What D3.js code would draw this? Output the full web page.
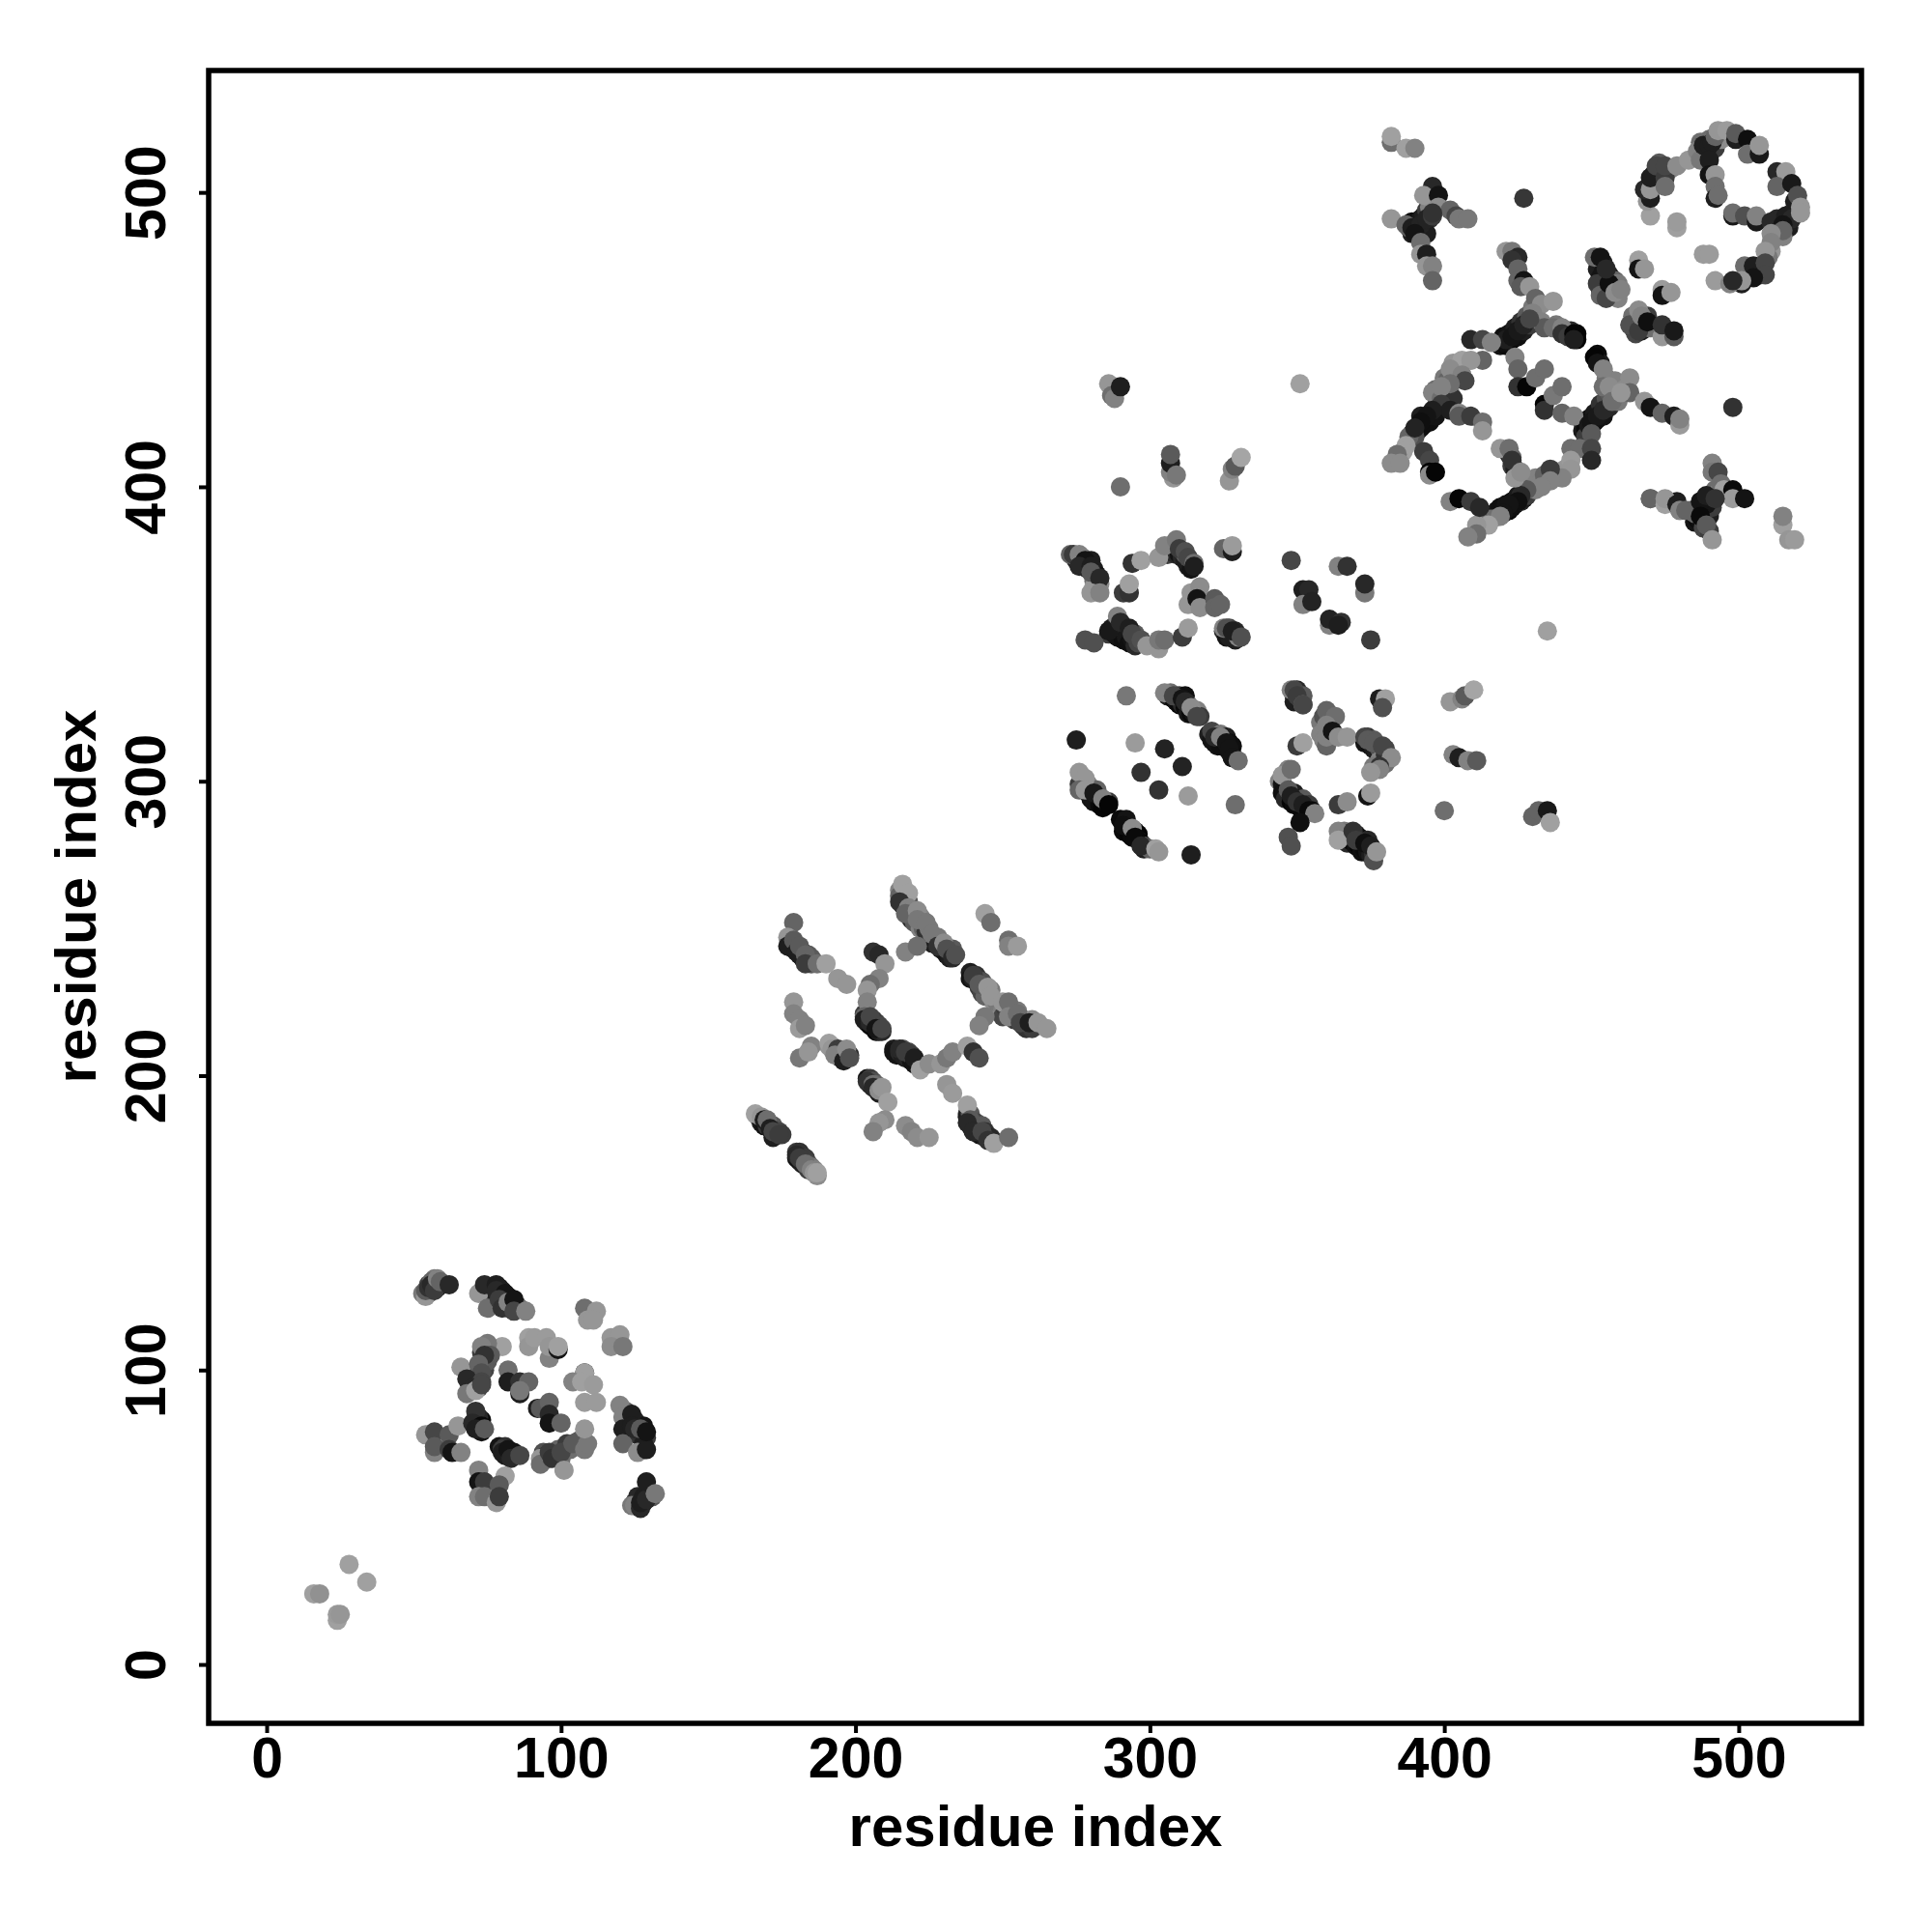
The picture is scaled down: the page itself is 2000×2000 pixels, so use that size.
<!DOCTYPE html>
<html><head><meta charset="utf-8">
<script src="https://cdn.jsdelivr.net/npm/d3@7/dist/d3.min.js"></script>
<style>html,body{margin:0;background:#fff}svg{display:block}text{font-family:"Liberation Sans",Arial,sans-serif;font-weight:bold;fill:#000}</style>
</head><body><svg id="c" width="2000" height="2000"></svg>
<script>
const tickValues=[0,100,200,300,400,500];
const axisTitle="residue index";
// each row: residue i, residue j, contact score (0 dark ... 170 light)
const bandB=[
[53,126,120],[55,126,60],[55,129,70],[56,127,40],[57,129,90],[57,131,120],[56,130,100],[58,128,30],
[76,127,40],[77,128,35],[77,125,60],[78,126,35],[79,128,20],[80,127,30],[79,122,50],[81,125,30],[82,125,20],[83,124,25],[83,121,70],[85,122,60],[86,121,110],[82,121,60],
[73,106,60],[74,103,50],[75,107,90],[72,100,110],[71,98,70],[72,97,50],[74,100,70],[71,96,40],[72,94,60],[69,95,40],[71,94,80],[75,103,90],
[122,86,100],[122,83,40],[123,82,30],[122,81,80],[125,83,40],[126,81,20],[127,78,30],[128,81,20],[129,77,60],[126,78,50],[128,75,30],[128,73,30],
[71,83,40],[72,82,20],[73,83,10],[72,84,40],[73,79,20],
[79,74,20],[81,71,30],[81,74,50],[84,72,20],[84,71,30],[82,71,20],
[94,72,80],[95,71,40],[96,70,60],[98,71,50],[99,73,100],[100,70,110],[102,73,90],[102,75,60],[105,74,100],[106,76,90],
[125,55,40],[126,55,30],[127,56,30],[128,55,20],[126,57,40],[124,54,120],[128,57,30],[131,57,90]];
const bandC=[
[167,186,100],[168,184,30],[169,183,20],[170,183,60],[171,183,40],[172,183,90],[173,181,50],[172,179,30],[174,181,70],[175,180,60],
[180,172,20],[180,174,60],[181,174,50],[182,172,40],[181,171,20],[182,170,30],[183,172,60],[184,170,70],[184,168,60],[185,169,120],[186,168,130],[187,166,140],
[178,245,60],[178,244,20],[179,243,20],[180,244,50],[181,243,40],[181,241,20],[182,242,30],[182,240,30],[183,240,70],[184,241,90],[185,240,90],[185,238,90],
[203,221,60],[204,220,30],[204,218,20],[205,217,10],[206,217,20],[206,219,50],[207,218,60],[207,215,10],[208,217,70],[208,215,30],[209,215,40],
[213,209,30],[213,208,20],[214,207,20],[215,208,40],[216,207,30],[216,209,80],[217,206,30],[218,206,40],[218,208,70],[219,205,20],[219,207,60],[220,204,20],
[191,210,150],[192,210,100],[193,209,50],[194,208,70],[195,207,30],[196,208,100],[195,206,30],[197,207,60],[198,207,40],
[204,199,20],[205,199,60],[205,197,10],[206,198,80],[207,196,30],[207,197,100],[208,194,30],
[238,187,60],[238,186,30],[239,183,20],[239,187,90],[240,183,30],[241,182,30],[241,184,70],[242,180,20],[243,183,90],[244,179,30],[244,181,50],[246,179,40],
[215,263,130],[215,261,100],[216,260,120],[216,258,30],[217,258,60],[218,259,90],[219,256,30],[219,253,40],[220,254,110],[220,252,90],[222,250,130],[222,254,130],[223,250,100],[224,249,50],[225,250,120],[226,246,60],[227,247,130],[226,245,30],[228,247,120],[229,243,30],[231,241,20],[232,242,40],[232,240,30],[233,243,90],
[239,235,30],[239,233,20],[241,232,30],[241,234,50],[242,230,60],[243,232,80],[243,228,70],[244,227,100],[246,229,120],[247,225,140],[248,225,120],[250,222,130],[250,220,70],[251,223,60],[252,222,80],[253,220,40],[254,219,60],[255,219,50],[255,222,120],[257,219,80],[257,217,40],[258,216,50],[260,216,60],[260,219,140]];
const bandD=[
[275,375,40],[276,376,30],[277,373,30],[278,373,20],[277,376,90],[279,374,20],[279,372,20],[280,375,30],[281,372,30],[282,370,20],[281,368,110],[283,367,140],[282,366,30],[281,366,150],
[306,377,60],[307,380,90],[307,378,30],[308,378,60],[309,377,40],[310,377,20],[311,376,40],[312,375,30],[313,373,30],[314,372,20],[312,377,90],
[286,350,60],[287,352,30],[288,352,20],[288,350,20],[289,354,60],[289,349,20],[290,351,20],[291,348,15],[291,352,60],[292,349,25],[293,347,15],[294,348,20],[295,346,40],[296,347,70],[295,350,90],
[325,351,40],[326,349,20],[327,352,70],[327,349,30],[329,348,30],[329,351,40],[330,349,130],
[306,329,30],[307,330,110],[308,328,10],[309,327,20],[310,326,10],[310,329,60],[311,326,40],[312,329,15],[312,325,10],[313,326,90],[313,323,25],[314,323,10],[315,323,20],[316,324,130],[317,322,60],
[320,316,30],[321,314,20],[321,317,70],[322,313,20],[323,312,20],[324,316,120],[324,312,15],[325,314,10],[326,315,30],[327,313,15],[328,312,15],[327,310,20],[328,309,10],[328,308,80],
[277,300,90],[276,299,60],[278,298,40],[279,296,20],[279,299,130],[280,294,20],[281,293,20],[282,295,20],[283,292,10],[282,297,100],[284,291,5],[285,293,20],[286,293,60],
[290,287,10],[291,283,10],[292,284,10],[292,287,20],[293,282,5],[294,281,10],[295,283,20],[296,282,5],[296,280,20],[297,279,5],[298,278,80],[298,277,30],[300,277,100],
[349,329,50],[350,331,40],[349,327,30],[351,328,50],[352,329,90],
[347,304,130],[344,300,130],[345,299,20],[345,296,15],[347,295,10],[346,294,40],[348,293,5],[349,296,30],[349,292,10],[350,294,40],[351,291,10],[351,294,20],[352,294,90],[353,291,20],[353,290,5],[354,292,60],[355,290,15],
[358,320,120],[359,322,80],[358,316,130],[359,314,130],[361,317,90],[361,320,120],[360,312,100],
[373,313,20],[374,315,50],[375,312,15],[376,314,90],[376,311,25],[377,312,40],[377,310,30],[378,311,80],[379,309,60],[380,311,70],[380,306,110],[378,307,130],[376,305,120],[380,309,50],
[366,283,120],[367,282,30],[367,279,40],[368,280,5],[369,281,10],[370,282,30],[370,278,15],[371,281,15],[371,278,5],[372,280,10],[372,276,15],[373,277,10],[374,276,20],[374,280,40],[375,275,30],[376,275,50]];
const bandE=[
[419,448,20],[420,451,15],[421,448,10],[422,449,10],[422,452,20],[423,450,10],[424,451,15],[424,454,30],[425,451,15],[426,453,20],[426,456,50],[427,453,30],[428,455,50],[428,458,90],[429,455,60],[430,461,120],[431,458,100],
[391,419,20],[392,424,30],[392,420,20],[393,422,10],[393,421,15],[394,423,15],[395,424,20],[395,422,15],[396,425,30],[397,424,20],[397,427,30],[398,426,20],[389,418,40],[390,417,80],[388,417,100],[398,429,50],[399,431,110],[397,433,110],[396,432,130],
[447,419,25],[447,422,30],[448,420,10],[449,423,15],[450,421,15],[451,422,10],[451,425,25],[452,423,15],[453,425,20],[453,428,50],[454,424,20],[455,427,30],[455,430,80],[456,427,40],[458,430,90],[459,429,120],[448,417,60],
[417,391,30],[418,392,20],[418,390,15],[419,391,15],[419,393,15],[420,393,15],[421,392,10],[421,394,20],[422,392,10],[423,395,15],[423,393,15],[424,394,15],[425,397,25],[426,395,40],[427,396,30],[427,398,60],[428,397,60],[416,389,120],[415,389,110],[430,401,110],[431,399,130],[432,403,130],
[388,489,20],[389,490,15],[389,486,30],[390,489,15],[390,487,15],[391,490,15],[391,487,20],[392,491,25],[392,488,20],[393,492,30],[393,489,25],[394,494,60],[395,495,130],[396,497,140],[395,491,50],[394,486,30],[388,488,90],
[484,392,90],[485,388,20],[486,392,15],[486,389,10],[487,391,10],[487,388,15],[488,392,10],[488,389,10],[489,393,10],[489,391,20],[490,394,20],[490,390,30],[491,396,30],[491,393,60],[492,397,80],[492,399,110],[493,398,130],[488,386,70],[490,385,60],
[452,474,30],[454,476,30],[453,471,20],[454,468,15],[453,467,60],[455,470,10],[456,472,25],[455,466,20],[457,468,20],[457,465,60],[458,470,100],[459,469,120],[454,473,20],[456,467,40],[459,464,130],[452,469,60],
[465,457,90],[464,454,60],[465,452,70],[466,455,30],[467,456,15],[467,453,30],[468,454,30],[469,458,60],[470,454,110],[464,458,110],
[486,513,25],[487,514,30],[487,517,110],[488,513,20],[489,514,30],[490,518,110],[490,513,30],[492,515,60],[494,520,150],[495,519,120],[494,518,140],
[470,503,70],[471,506,50],[472,506,20],[473,508,40],[473,510,90],[477,508,130],
[516,490,20],[517,492,40],[518,493,30],[519,494,60],[517,488,30],[515,485,130],[513,487,30],[513,491,40],[520,497,130],
[507,472,20],[508,474,30],[506,473,40],[504,473,60],[503,474,120],[511,480,150],[510,478,120],
[400,437,120],[401,436,100],[403,438,140],[400,431,100],[399,430,110],[402,432,120],[403,430,50],[403,442,150],
[438,455,120],[441,453,60],[443,451,15],[445,450,5],[445,452,5],[443,453,40],
[452,445,10],[453,442,30],[455,437,120],[457,434,130],[458,436,130],[461,433,140],[458,431,110],[456,432,90],
[429,401,90],[431,403,130],[433,402,130],[434,404,100],[437,405,90],[439,404,120],[441,406,150],
[423,407,60],[424,406,30],[422,411,40],[423,410,100]];
const domainA=[[16,24,160],[18,24,145],[24,15,160],[24,17,155],[25,17,150],[28,34,160],[34,28,160]];
const domainB=[
[54,125,150],[54,127,90],[55,128,50],[56,129,40],[57,127,60],[58,131,130],[59,130,100],[62,129,40],
[72,126,150],[74,129,40],[75,121,110],[78,129,30],[78,127,40],[81,126,20],[79,124,60],[80,121,50],[82,123,130],[84,124,20],[84,120,70],[88,120,130],
[108,121,110],[109,117,150],[112,120,150],[111,117,150],[117,111,150],[120,112,150],[117,108,140],[121,108,120],
[89,111,160],[89,108,150],[91,111,155],[95,111,155],[96,104,130],[96,108,150],[99,107,20],[99,108,160],
[80,108,160],[75,109,120],[73,108,130],[76,105,90],[74,105,50],[66,101,150],[72,102,100],[73,99,80],[68,97,40],[73,96,70],[70,94,40],[68,92,120],[71,93,160],[73,95,70],
[82,100,110],[82,96,30],[86,96,50],[89,96,100],[86,92,30],[86,93,120],
[108,99,20],[108,99,160],[104,96,130],[107,96,160],[111,95,155],[108,89,155],[112,89,155],
[92,87,30],[93,87,90],[96,89,100],[96,85,40],[96,82,20],[100,82,100],
[120,88,130],[121,84,130],[121,80,30],[124,85,30],[124,81,30],[121,75,100],[126,72,140],[129,73,30],[125,80,40],[127,80,90],[129,79,20],
[54,78,150],[57,79,70],[57,72,130],[57,74,90],[62,78,90],[65,81,150],[62,73,60],[63,72,20],[66,72,130],
[71,86,50],[70,82,40],[73,81,10],[71,80,30],[74,80,90],
[80,73,60],[80,72,30],[82,73,20],[83,70,40],[86,71,70],
[93,70,150],[93,68,110],[96,72,60],[97,70,50],[103,73,110],[100,72,70],[101,66,150],[104,75,90],[108,73,120],[109,75,120],[108,80,150],
[72,66,130],[72,62,20],[74,62,60],[72,57,130],[74,57,110],[81,64,160],[79,61,90],[78,55,150],[79,57,60],
[125,54,130],[127,53,40],[127,55,30],[129,56,40],[129,62,30],[132,58,120]];
const domainC=[
[166,187,160],[168,186,150],[169,185,30],[170,185,110],[171,182,30],[172,181,70],[174,180,60],
[180,173,40],[181,172,60],[183,170,110],[185,168,130],[186,167,150],[187,167,160],
[179,252,100],[177,247,150],[177,244,30],[179,246,90],[180,242,30],[181,244,90],[183,241,100],[183,238,60],[187,238,110],[190,238,160],[194,233,150],[197,231,150],
[179,225,150],[179,221,130],[181,219,130],[181,216,155],[183,217,130],
[181,206,120],[185,210,130],[184,208,150],[191,211,160],[192,209,150],[194,209,60],[193,207,130],[196,205,30],[197,209,140],[198,206,80],
[206,242,50],[208,241,40],[210,238,150],[208,233,130],[205,231,110],[204,229,150],[204,225,130],
[203,220,100],[203,219,30],[205,218,40],[205,220,70],[207,216,20],[209,216,70],
[215,209,40],[217,208,60],[220,206,30],[222,202,160],[225,204,140],[229,204,150],[231,206,120],[233,208,130],[238,210,160],[240,208,50],[242,206,80],
[204,198,50],[206,197,110],[206,196,40],[208,195,140],[209,196,150],[211,191,160],[210,185,140],[208,184,150],[206,181,130],
[217,183,140],[219,181,130],[221,179,140],[225,179,150],[231,197,150],[233,194,155],
[238,190,160],[239,185,90],[238,184,40],[240,181,40],[243,181,70],[245,178,50],[247,177,160],[252,179,110],
[216,265,160],[218,262,160],[215,259,50],[218,257,130],[217,255,100],[221,256,140],[221,253,120],[224,252,120],[226,248,120],[228,244,50],[230,245,140],[231,243,80],[233,240,40],[234,241,80],
[217,242,130],[221,244,110],[244,255,160],[246,252,110],[252,246,110],[252,244,130],[255,244,155],
[240,233,30],[240,234,60],[242,231,90],[245,230,150],[246,227,150],[244,220,120],[242,217,130],[250,225,150],[252,225,110],[252,220,130],[255,221,110],[256,218,70],[259,218,30],[262,218,150],[265,216,150]];
const domainD=[
[273,377,100],[274,377,60],[276,377,130],[278,375,20],[276,373,40],[280,373,30],[280,371,90],[283,369,40],[280,364,150],[283,364,130],
[294,374,50],[297,375,160],[291,364,60],[293,364,50],[293,367,160],
[303,376,150],[305,380,130],[309,382,120],[310,379,60],[312,378,80],[313,376,70],[315,374,110],[315,373,30],
[314,364,150],[313,360,150],[317,366,140],[316,362,20],[317,359,140],[322,362,90],[322,359,100],[324,360,100],[325,379,100],[328,378,30],[328,380,155],
[278,348,80],[281,347,80],[286,351,25],[289,356,130],[290,354,40],[293,352,30],[294,350,70],[297,348,80],[299,346,150],[303,345,150],[303,348,120],[305,348,110],[311,349,60],[313,352,155],
[325,352,130],[326,352,80],[328,351,30],[331,349,80],
[292,329,120],[305,330,130],[308,329,70],[311,328,20],[312,327,40],[314,325,140],[316,322,70],
[322,315,40],[324,315,130],[326,313,20],[327,311,20],[328,308,20],[330,307,110],
[275,314,30],[295,313,155],[305,311,35],[311,305,35],[297,303,50],[303,297,50],[313,295,155],[329,292,110],
[276,303,150],[278,301,150],[276,297,100],[278,297,150],[281,296,25],[284,294,130],[286,292,5],
[291,285,15],[294,284,140],[295,281,10],[297,278,40],[302,277,160],[303,276,150],[314,275,30],
[288,433,120],[286,435,150],[287,431,110],[288,430,130],[290,434,30],[290,400,110],[351,435,160],
[308,403,150],[307,405,130],[307,408,30],[309,404,120],[307,411,90],[327,402,150],[328,406,130],[329,407,90],[331,410,165],
[348,375,70],[364,373,130],[367,373,50],[373,364,120],[373,367,40],
[352,365,30],[354,365,40],[352,360,130],[355,361,35],[361,353,130],[361,355,35],[365,354,50],[364,353,30],[375,348,60],
[348,331,130],[349,331,70],[350,329,60],[352,326,110],[352,326,70],[378,328,30],[380,328,160],[379,325,80],
[360,324,100],[363,322,110],[360,319,130],[360,315,130],[362,317,20],[364,315,140],[367,315,150],
[373,315,70],[374,314,90],[376,313,90],[379,312,70],[382,308,140],[378,305,50],[378,304,130],[375,303,150],
[350,312,60],[352,313,160],[345,302,150],[348,304,110],[347,297,90],[348,295,30],[350,293,50],[352,292,30],[354,290,10],[356,289,130],[351,286,15],[347,281,80],[348,278,80],
[364,292,60],[367,293,140],[374,295,20],[375,296,155],
[364,283,130],[364,280,160],[369,283,50],[370,280,60],[373,279,15],[375,278,30],[376,273,80],[377,276,150],
[402,327,150],[406,328,130],[407,329,90],[410,331,165],[403,309,130],[405,308,30],[408,307,130],[411,307,90],
[400,290,110],[430,288,100],[432,290,100],[435,290,25],[436,286,160],[435,351,160]];
const domainE=[
[382,517,110],[382,519,160],[387,515,160],[390,515,130],
[396,502,40],[393,499,150],[398,499,20],[398,495,140],[402,494,100],[404,492,70],[405,491,120],[408,491,120],
[382,491,150],[387,489,100],[389,488,30],[391,488,30],[392,489,35],[394,491,35],[396,492,60],[396,493,50],[390,486,20],[392,483,110],[392,479,150],[394,479,30],[394,475,150],[396,475,130],[396,470,100],
[427,498,55],[421,480,150],[423,480,120],[425,478,40],[423,477,50],[425,474,100],[425,470,100],[427,470,20],[426,468,90],[429,468,150],
[431,464,100],[433,462,140],[437,463,150],[430,459,130],[433,456,130],[434,454,90],[437,454,110],[440,454,130],[440,452,50],[442,451,60],[444,452,5],[444,450,30],
[420,449,15],[421,450,30],[423,451,20],[425,453,25],[427,455,35],[429,457,70],
[409,450,40],[413,450,70],[416,449,130],[413,443,100],[406,443,160],[409,443,150],[402,440,140],[406,438,130],[407,436,70],[402,435,110],[399,434,130],[399,428,60],[402,426,30],
[396,426,30],[394,424,20],[392,422,15],[390,420,35],[387,414,160],[386,412,160],[384,411,110],[382,408,140],[385,408,140],
[405,425,130],[405,424,90],[409,424,60],[413,422,110],[413,419,150],
[424,444,130],[425,440,100],[425,434,50],[428,434,5],[431,437,110],[434,440,110],[434,428,5],[434,426,50],[437,431,120],[440,434,110],[440,425,100],[444,424,130],
[451,444,5],[452,442,20],[454,440,130],[454,434,110],[456,434,140],[463,437,140],[463,432,100],
[449,421,25],[450,422,20],[452,424,25],[454,426,40],[457,429,110],[460,432,150],[450,418,90],
[468,429,150],[470,427,20],[474,425,100],[478,424,30],[480,421,155],[480,423,130],
[443,413,110],[446,413,110],[450,413,70],[450,409,40],[443,409,155],[443,406,150],[440,403,130],[436,406,60],[436,402,130],[433,400,130],
[428,399,90],[426,397,40],[425,395,15],[422,394,20],[420,391,20],[419,390,130],[415,387,160],[411,387,150],[411,384,110],[408,383,130],
[419,413,150],[422,413,110],[423,409,50],[424,403,150],[426,405,140],
[393,412,60],[395,409,70],[395,405,5],[395,404,140],[397,405,5],
[402,395,130],[405,396,5],[409,395,60],[412,393,40],
[470,396,110],[475,395,150],[479,395,30],[480,392,130],[485,391,100],[487,393,15],
[451,478,110],[453,478,20],[453,465,100],[455,464,70],[456,469,15],[455,474,40],[458,466,140],[460,467,130],
[466,477,160],[466,474,20],[468,474,150],[474,467,155],[474,465,20],[477,466,150],
[463,455,80],[466,453,60],[466,460,140],[467,458,130],[469,456,15],[474,451,150],[474,455,50],[478,451,90],[478,453,25],
[470,492,160],[469,497,150],[470,498,30],[468,501,40],[470,501,150],[470,505,30],[472,509,70],[475,505,60],[475,502,110],[475,509,70],
[479,509,140],[483,511,150],[486,514,130],[487,511,120],[488,516,30],[490,516,30],[491,517,30],[492,519,100],[493,521,150],[496,521,155],[499,518,30],[499,520,90],[503,518,15],[503,513,110],[507,513,25],[507,516,150],
[490,511,30],[490,506,20],[492,506,150],[492,502,110],[492,498,30],[493,499,110],
[479,488,160],[479,490,155],[488,479,155],[490,479,155],[492,470,155],
[498,492,25],[498,493,110],[502,492,80],[506,490,25],[506,492,130],[511,490,40],
[513,507,40],[516,507,155],[513,502,100],[518,503,25],[519,497,30],[520,499,80],
[516,492,30],[518,491,40],[515,489,20],[515,487,100],[521,495,150],[521,493,150],
[511,486,140],[511,483,130],[509,480,150],[502,475,110],[505,475,30],[509,476,70],[509,472,70],[505,471,20],[501,469,30],[501,470,150],[497,469,130],[498,470,40],
[498,427,50],[491,408,130],[491,405,120],[493,405,70],[494,401,110],[495,399,160],[498,399,10],[498,396,155],[502,396,20],
[470,396,100],[475,394,160],[475,396,150],[479,394,30],[480,392,130],[482,392,100],[489,394,20],[487,395,20],[489,397,30],[492,396,50],[487,390,10],[489,387,90],[491,382,150],
[515,387,160],[515,390,130],[517,382,150],[519,382,155]];
const layers=[bandB,bandC,bandD,bandE,domainA,domainB,domainC,domainD,domainE];

const svg=d3.select("#c");
const x=d3.scaleLinear().domain([-19.7,541.7]).range([216,1927]);
const y=d3.scaleLinear().domain([-20,541.4]).range([1784,73]);
const shade=d3.scaleLinear().domain([0,170]).range(["#000000","#aaaaaa"]);

svg.append("g").selectAll("circle").data(layers.flat()).join("circle")
  .attr("cx",d=>x(d[0])).attr("cy",d=>y(d[1])).attr("r",10).attr("fill",d=>shade(d[2]));

svg.append("rect").attr("x",x.range()[0]).attr("y",y.range()[1])
  .attr("width",x.range()[1]-x.range()[0]).attr("height",y.range()[0]-y.range()[1])
  .attr("fill","none").attr("stroke","#000").attr("stroke-width",5.5);

const gx=svg.append("g").attr("transform","translate(0,1784)")
  .call(d3.axisBottom(x).tickValues(tickValues).tickSize(10).tickPadding(6).tickFormat(d3.format("d")));
const gy=svg.append("g").attr("transform","translate(216,0)")
  .call(d3.axisLeft(y).tickValues(tickValues).tickSize(10).tickFormat(d3.format("d")));
gx.select(".domain").remove();gy.select(".domain").remove();
svg.selectAll(".tick line").attr("stroke","#000").attr("stroke-width",4);
gx.selectAll("text").attr("font-size",59).attr("dy",null).attr("y",null)
  .attr("dominant-baseline",null).attr("transform","translate(0,56)").attr("style","font-family:'Liberation Sans';font-weight:bold;fill:#000");
gy.selectAll("text").attr("font-size",59).attr("x",null).attr("dy",null)
  .attr("text-anchor","middle")
  .attr("transform","translate(-45,0) rotate(-90)").attr("style","font-family:'Liberation Sans';font-weight:bold;fill:#000");
svg.append("text").attr("x",1072).attr("y",1911).attr("text-anchor","middle").attr("font-size",60).text(axisTitle);
svg.append("text").attr("transform","translate(99,928) rotate(-90)").attr("text-anchor","middle").attr("font-size",60).text(axisTitle);
</script></body></html>
